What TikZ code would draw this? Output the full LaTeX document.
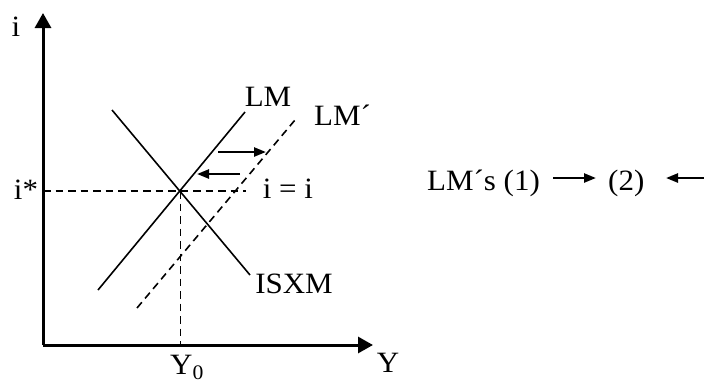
\documentclass[tikz,border=0pt]{standalone}
\usepackage{fontspec}
\setmainfont{Liberation Serif}[FakeStretch=1.05]
\usetikzlibrary{arrows.meta}
\begin{document}
\begin{tikzpicture}[x=1pt,y=-1pt,
  lbl/.style={inner sep=0pt,font=\fontsize{29.5}{32}\selectfont},
  axis/.style={line width=3pt,-{Triangle[length=15pt,width=16pt]}},
  curve/.style={line width=1.6pt},
  dcurve/.style={line width=1.6pt,dash pattern=on 7.5pt off 5pt},
  shiftarrow/.style={line width=2.4pt,-{Triangle[length=12pt,width=9pt]}}]
\useasboundingbox (0,0) rectangle (704,381);
% axes
\coordinate (O) at (43,345);
\coordinate (ytop) at (43,13);
\coordinate (xend) at (373,345);
\draw[axis] (O) -- (ytop);
\draw[axis] (O) -- (xend);
% curves
\coordinate (E) at (180.5,191);
\coordinate (LMa) at (98,290);
\coordinate (LMb) at (245,112);
\coordinate (ISa) at (112,110);
\coordinate (ISb) at (250,275);
\coordinate (LPa) at (137,308);
\coordinate (LPb) at (295,120);
\coordinate (Hl) at (43,191);
\coordinate (Hr) at (246,191);
\coordinate (Vb) at (180.5,345);
\draw[curve] (LMa) -- (LMb);
\draw[curve] (ISa) -- (ISb);
\draw[dcurve] (LPa) -- (LPb);
\draw[dcurve] (Hl) -- (Hr);
\draw[dcurve] (E) -- (Vb);
% shift arrows
\coordinate (r1) at (218,152);
\coordinate (r2) at (266,152);
\coordinate (l1) at (240,174);
\coordinate (l2) at (197,174);
\draw[shiftarrow] (r1) -- (r2);
\draw[shiftarrow] (l1) -- (l2);
% labels
\node[lbl,anchor=base] (li) at (16,36) {i};
\node[lbl,anchor=base] (listar) at (26,199) {i*};
\node[lbl,anchor=base] (lLM) at (268,106) {LM};
\node[lbl,anchor=base west] (lLMp) at (314,125) {LM´};
\node[lbl,anchor=base] (lii) at (288,198) {i = i};
\node[lbl,anchor=base] (lIS) at (294,293) {ISXM};
\node[lbl,anchor=base] (lY0) at (187,374) {Y\textsubscript{0}};
\node[lbl,anchor=base] (lY) at (388,372) {Y};
% right-hand line
\node[lbl,anchor=base west] (t1) at (427,190) {LM´s (1)};
\node[lbl,anchor=base west] (t2) at (608,190) {(2)};
\coordinate (a1) at (553,178);
\coordinate (a2) at (596,178);
\coordinate (b1) at (705,178);
\coordinate (b2) at (666,178);
\draw[shiftarrow] (a1) -- (a2);
\draw[shiftarrow] (b1) -- (b2);
\end{tikzpicture}
\end{document}
